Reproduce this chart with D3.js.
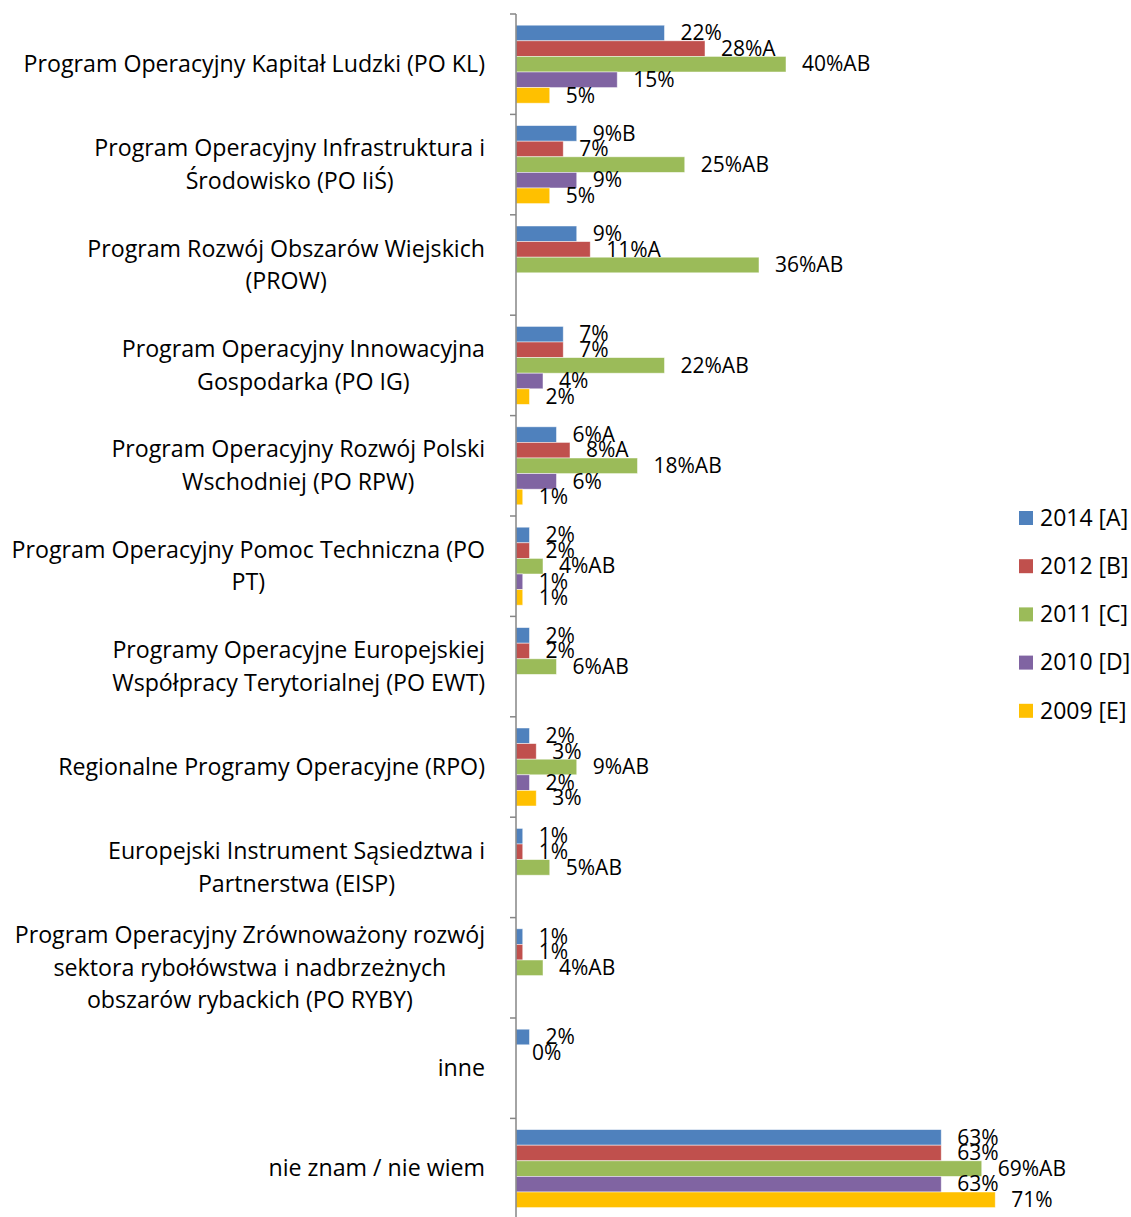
<!DOCTYPE html>
<html><head><meta charset="utf-8">
<script src="https://cdn.jsdelivr.net/npm/d3@7"></script>
<style>body{margin:0;background:#fff}svg{display:block}</style>
</head><body><svg id="c" width="1131" height="1217"></svg>
<script>
const categories = [
  ["Program Operacyjny Kapitał Ludzki (PO KL)"],
  ["Program Operacyjny Infrastruktura i","Środowisko (PO IiŚ)"],
  ["Program Rozwój Obszarów Wiejskich","(PROW)"],
  ["Program Operacyjny Innowacyjna","Gospodarka (PO IG)"],
  ["Program Operacyjny Rozwój Polski","Wschodniej (PO RPW)"],
  ["Program Operacyjny Pomoc Techniczna (PO","PT)"],
  ["Programy Operacyjne Europejskiej","Współpracy Terytorialnej (PO EWT)"],
  ["Regionalne Programy Operacyjne (RPO)"],
  ["Europejski Instrument Sąsiedztwa i","Partnerstwa (EISP)"],
  ["Program Operacyjny Zrównoważony rozwój","sektora rybołówstwa i nadbrzeżnych","obszarów rybackich (PO RYBY)"],
  ["inne"],
  ["nie znam / nie wiem"]
];
const seriesNames = ["2014 [A]","2012 [B]","2011 [C]","2010 [D]","2009 [E]"];
const colors = ["#4F81BD","#C0504D","#9BBB59","#8064A2","#FFC000"];
const values2014 = [22, 9, 9, 7, 6, 2, 2, 2, 1, 1, 2, 63];
const values2012 = [28, 7, 11, 7, 8, 2, 2, 3, 1, 1, 0, 63];
const values2011 = [40, 25, 36, 22, 18, 4, 6, 9, 5, 4, null, 69];
const values2010 = [15, 9, null, 4, 6, 1, null, 2, null, null, null, 63];
const values2009 = [5, 5, null, 2, 1, 1, null, 3, null, null, null, 71];
const marks2014 = ["", "B", "", "", "A", "", "", "", "", "", "", ""];
const marks2012 = ["A", "", "A", "", "A", "", "", "", "", "", "", ""];
const marks2011 = ["AB","AB","AB","AB","AB","AB","AB","AB","AB","AB","", "AB"];
const marks2010 = ["", "", "", "", "", "", "", "", "", "", "", ""];
const marks2009 = ["", "", "", "", "", "", "", "", "", "", "", ""];

const allValues = [values2014, values2012, values2011, values2010, values2009];
const allMarks = [marks2014, marks2012, marks2011, marks2010, marks2009];

const svg = d3.select("#c");
const font = "'Open Sans', sans-serif";
const axisX = 516;
const y0 = d3.scaleBand().domain(d3.range(categories.length)).range([14, 14 + 12 * 100.4]);
const y1 = d3.scaleBand().domain(d3.range(5)).range([11.2, 89.2]);
const x = d3.scaleLinear().domain([0, 100]).range([axisX, axisX + 675]);

const rows = [];
categories.forEach((c, i) => {
  allValues.forEach((vals, s) => {
    if (vals[i] !== null) rows.push({cat: i, s, v: vals[i], label: vals[i] + "%" + allMarks[s][i]});
  });
});

// bars
svg.append("g").selectAll("rect").data(rows).join("rect")
  .attr("x", x(0))
  .attr("y", d => y0(d.cat) + y1(d.s))
  .attr("width", d => x(d.v) - x(0))
  .attr("height", y1.bandwidth())
  .attr("fill", d => colors[d.s])
  .attr("stroke", d => d.v > 0 ? "rgba(255,255,255,0.6)" : "none")
  .attr("stroke-width", 0.8);

// axis
const axisG = svg.append("g").attr("transform", `translate(${axisX},0)`);
axisG.append("line").attr("x1", 0).attr("x2", 0).attr("y1", 14).attr("y2", 1217)
  .attr("stroke", "#868686").attr("stroke-width", 1.5);
const tickYs = d3.range(categories.length + 1).map(i => 14 + i * y0.step());
axisG.selectAll("line.t").data(tickYs).join("line").attr("class", "t")
  .attr("x1", -6).attr("x2", 0).attr("y1", d => d).attr("y2", d => d)
  .attr("stroke", "#868686").attr("stroke-width", 1.5);

// data labels
svg.append("g").selectAll("text").data(rows).join("text")
  .attr("x", d => x(d.v) + 16)
  .attr("y", d => y0(d.cat) + y1(d.s) + y1.bandwidth() / 2)
  .attr("dy", "0.34em")
  .attr("font-family", font).attr("font-size", 21).attr("fill", "#000")
  .text(d => d.label);

// category labels
const catG = svg.append("g");
categories.forEach((lines, i) => {
  const cy = y0(i) + y0.bandwidth() / 2;
  const lh = 32.5;
  const g = catG.append("g");
  const texts = lines.map((t, k) => g.append("text")
    .attr("y", cy + (k - (lines.length - 1) / 2) * lh)
    .attr("dy", "0.34em")
    .attr("font-family", font).attr("font-size", 23.2).attr("fill", "#000")
    .attr("text-anchor", "middle").text(t));
  const maxW = d3.max(texts, t => t.node().getComputedTextLength());
  texts.forEach(t => t.attr("x", 485 - maxW / 2));
});

// legend
const leg = svg.append("g").attr("transform", "translate(1019,518)");
seriesNames.forEach((n, s) => {
  const g = leg.append("g").attr("transform", `translate(0,${s * 48.2})`);
  g.append("rect").attr("x", 0).attr("y", -7).attr("width", 14).attr("height", 14).attr("fill", colors[s]);
  g.append("text").attr("x", 21).attr("y", 0).attr("dy", "0.34em")
    .attr("font-family", font).attr("font-size", 23).attr("fill", "#000").text(n);
});
</script></body></html>
